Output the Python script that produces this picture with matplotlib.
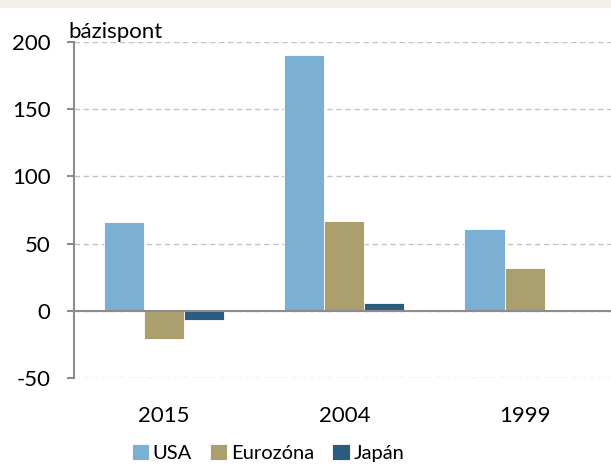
#!/usr/bin/env python3

# Import special modules ...
import matplotlib
matplotlib.use("Agg")
import matplotlib.pyplot
import matplotlib.patches
import numpy

# ******************************************************************************

# Define data ...
years = ["2015", "2004", "1999"]
series = ["USA", "Eurozóna", "Japán"]
usa = [66, 190, 61]
euro = [-21, 67, 32]
japan = [-7, 6, 0]
colours = ["#7bafd4", "#ab9f6e", "#2b5c7e"]

# Configure matplotlib ...
matplotlib.pyplot.rcParams.update({"font.family" : ["Lato", "DejaVu Sans"], "font.size" : 16, "axes.unicode_minus" : False})

# Create plot ...
fg = matplotlib.pyplot.figure(figsize = (6.11, 4.66), dpi = 100)
fg.patches.append(matplotlib.patches.Rectangle((0.0, 1.0 - 8.0 / 466.0), 1.0, 8.0 / 466.0, transform = fg.transFigure, facecolor = "#f2eeea", edgecolor = "none"))
ax = fg.add_axes([74.0 / 611.0, 88.0 / 466.0, 537.0 / 611.0, 336.0 / 466.0])

# Add bars ...
x = numpy.arange(len(years))
wd = 0.222
for i, (vals, name) in enumerate(zip([usa, euro, japan], series)):
    ax.bar(x + (i - 1) * wd, vals, width = wd, color = colours[i], edgecolor = "white", linewidth = 0.6, label = name, zorder = 3)

# Configure axes ...
ax.set_xlim(-0.5, 2.48)
ax.set_ylim(-50, 200)
ax.set_yticks([-50, 0, 50, 100, 150, 200])
ax.set_xticks(x)
ax.set_xticklabels(years)
ax.yaxis.grid(True, linestyle = (0, (4, 2.5)), color = "#c4c4c4", linewidth = 1.0, zorder = 0)
ax.axhline(0, color = "#8c8c8c", linewidth = 1.5, zorder = 4)
for side in ["top", "right", "bottom"]:
    ax.spines[side].set_visible(False)
ax.spines["left"].set_color("#8c8c8c")
ax.spines["left"].set_linewidth(1.5)
ax.tick_params(axis = "y", length = 5, width = 1.5, color = "#8c8c8c", pad = 12)
ax.tick_params(axis = "x", length = 0, pad = 20)

# Add unit label ...
fg.text(68.0 / 611.0, 1.0 - 38.0 / 466.0, "bázispont", ha = "left", va = "baseline")

# Add legend ...
fg.legend(*ax.get_legend_handles_labels(), loc = "center", bbox_to_anchor = (268.0 / 611.0, 13.0 / 466.0), ncol = 3, frameon = False, fontsize = 14.5, handlelength = 0.85, handleheight = 0.85, handletextpad = 0.2, columnspacing = 0.9, borderaxespad = 0)

# Save plot ...
fg.savefig("out.png", dpi = 100)
matplotlib.pyplot.close(fg)
